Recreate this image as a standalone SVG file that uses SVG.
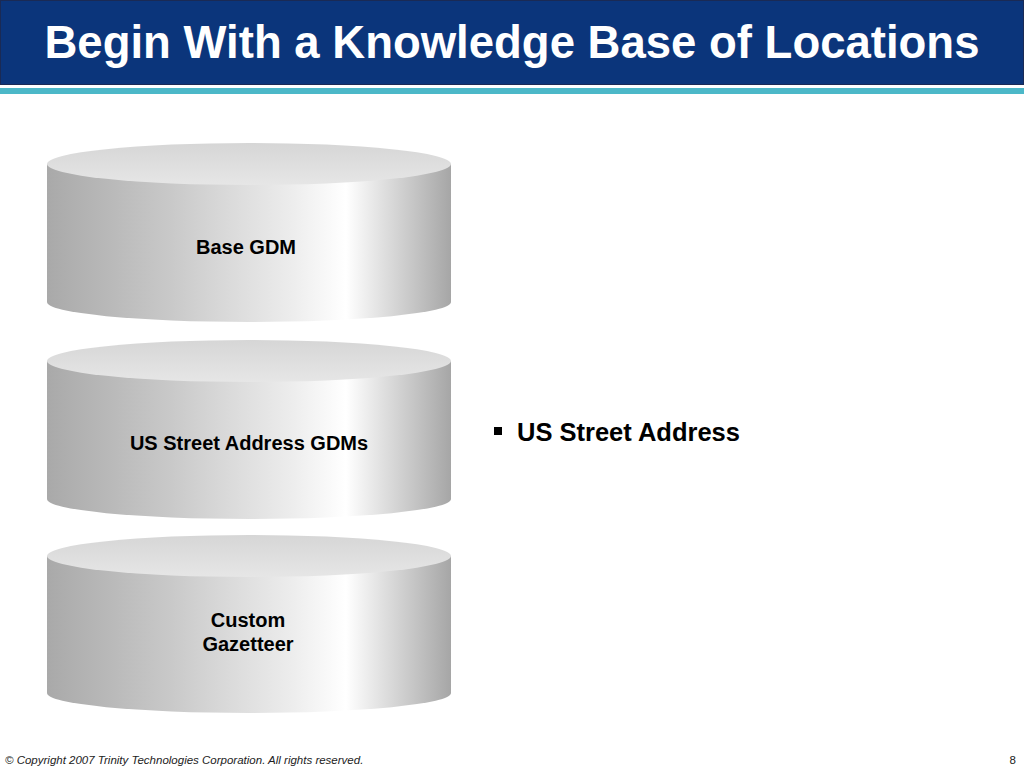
<svg xmlns="http://www.w3.org/2000/svg" width="1024" height="768" viewBox="0 0 1024 768">
<style>
.title{font-family:"Liberation Sans",Arial,sans-serif;font-weight:bold;font-size:45.5px;fill:#fff}
.lbl{font-family:"Liberation Sans",Arial,sans-serif;font-weight:bold;font-size:20px;fill:#000}
.bul{font-family:"Liberation Sans",Arial,sans-serif;font-weight:bold;font-size:25.5px;fill:#000}
.foot{font-family:"Liberation Sans",Arial,sans-serif;font-style:italic;font-size:11.5px;fill:#222}
.side{fill:url(#gSide)}
.top{fill:url(#gTop)}
</style>
<defs>
<linearGradient id="gSide" x1="0" y1="0" x2="1" y2="0">
<stop offset="0" stop-color="#a9a9a9"/>
<stop offset="0.3" stop-color="#c8c8c8"/>
<stop offset="0.6" stop-color="#ececec"/>
<stop offset="0.74" stop-color="#ffffff"/>
<stop offset="0.88" stop-color="#cfcfcf"/>
<stop offset="1" stop-color="#a6a6a6"/>
</linearGradient>
<linearGradient id="gTop" x1="0" y1="0" x2="0" y2="1">
<stop offset="0" stop-color="#d6d6d6"/>
<stop offset="1" stop-color="#e6e6e6"/>
</linearGradient>
</defs>
<rect x="0" y="0" width="1024" height="768" fill="#fff"/>
<rect x="0.5" y="0.5" width="1023" height="84" fill="#0b357b" stroke="#1a2a55"/>
<rect x="0" y="88" width="1024" height="6" fill="#4cb8c8"/>
<text class="title" x="512" y="58" text-anchor="middle">Begin With a Knowledge Base of Locations</text>

<g id="cyl-base-gdm">
<path class="side" d="M47,164 L47,302 A202,20 0 0 0 451,302 L451,164 Z"/>
<ellipse class="top" cx="249" cy="164" rx="202" ry="21"/>
<text class="lbl" x="246" y="254" text-anchor="middle">Base GDM</text>
</g>
<g id="cyl-us-street">
<path class="side" d="M47,361 L47,499 A202,20 0 0 0 451,499 L451,361 Z"/>
<ellipse class="top" cx="249" cy="361" rx="202" ry="21"/>
<text class="lbl" x="249" y="450" text-anchor="middle">US Street Address GDMs</text>
</g>
<g id="cyl-custom">
<path class="side" d="M47,556 L47,693 A202,20 0 0 0 451,693 L451,556 Z"/>
<ellipse class="top" cx="249" cy="556" rx="202" ry="21"/>
<text class="lbl" x="248" y="627" text-anchor="middle">Custom</text>
<text class="lbl" x="248" y="651" text-anchor="middle">Gazetteer</text>
</g>
<g id="connectors"/>

<rect x="494" y="427" width="8" height="8" fill="#000"/>
<text class="bul" x="517" y="441">US Street Address</text>

<text class="foot" x="5" y="764">© Copyright 2007 Trinity Technologies Corporation. All rights reserved.</text>
<text class="foot" x="1016" y="764" text-anchor="end" style="font-style:normal">8</text>
</svg>
